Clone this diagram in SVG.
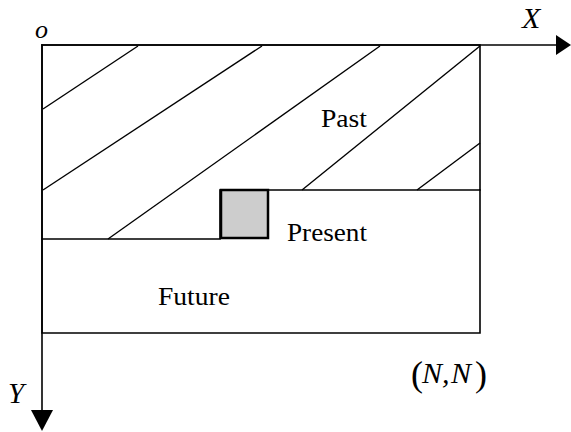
<svg xmlns="http://www.w3.org/2000/svg" width="571" height="432" viewBox="0 0 571 432">
<style>
.ln{stroke:#000;stroke-width:1.6;fill:none;stroke-linecap:square}
.hatch{stroke:#000;stroke-width:1.4;fill:none}
.lbl{font-family:"Liberation Serif","Times New Roman",serif;font-size:25px;fill:#000}
.math{font-family:"Liberation Serif","Times New Roman",serif;font-style:italic;fill:#000}
.paren{font-family:"Liberation Serif","Times New Roman",serif;font-size:36px;fill:#000}
</style>
<rect width="571" height="432" fill="#fff"/>
<g id="past">
<path class="ln" d="M42,239 L220,239 L220,190 L480,190 L480,45 L42,45 Z"/>
<line class="hatch" x1="43" y1="109" x2="138" y2="46"/>
<line class="hatch" x1="43" y1="190" x2="262" y2="46"/>
<line class="hatch" x1="108" y1="239" x2="380" y2="46"/>
<line class="hatch" x1="302" y1="190" x2="480" y2="46"/>
<line class="hatch" x1="417" y1="190" x2="480" y2="143"/>
<text class="lbl" x="321" y="127" textLength="46" lengthAdjust="spacingAndGlyphs">Past</text>
</g>
<g id="present">
<rect x="221" y="190" width="47" height="48" fill="#cdcdcd" stroke="#000" stroke-width="2.5"/>
<text class="lbl" x="287" y="241" textLength="80" lengthAdjust="spacingAndGlyphs">Present</text>
</g>
<g id="future">
<path class="ln" d="M42,239 L42,333 L480,333 L480,190"/>
<text class="lbl" x="158" y="305" textLength="72" lengthAdjust="spacingAndGlyphs">Future</text>
</g>
<g id="connectors">
<line class="ln" x1="42" y1="45" x2="557" y2="45"/>
<polygon points="556,35 571,45 556,55" fill="#000"/>
<line class="ln" x1="42" y1="45" x2="42" y2="411"/>
<polygon points="31,410 53,410 42,431" fill="#000"/>
</g>
<g id="labels">
<text class="math" x="35" y="38" font-size="26">o</text>
<text class="math" x="522" y="28" font-size="30">X</text>
<text class="math" x="8" y="403" font-size="29">Y</text>
<text class="paren" x="411" y="386">(</text>
<text class="math" x="422" y="383" font-size="30">N,</text>
<text class="math" x="451" y="383" font-size="30">N</text>
<text class="paren" x="475" y="386">)</text>
</g>
</svg>
